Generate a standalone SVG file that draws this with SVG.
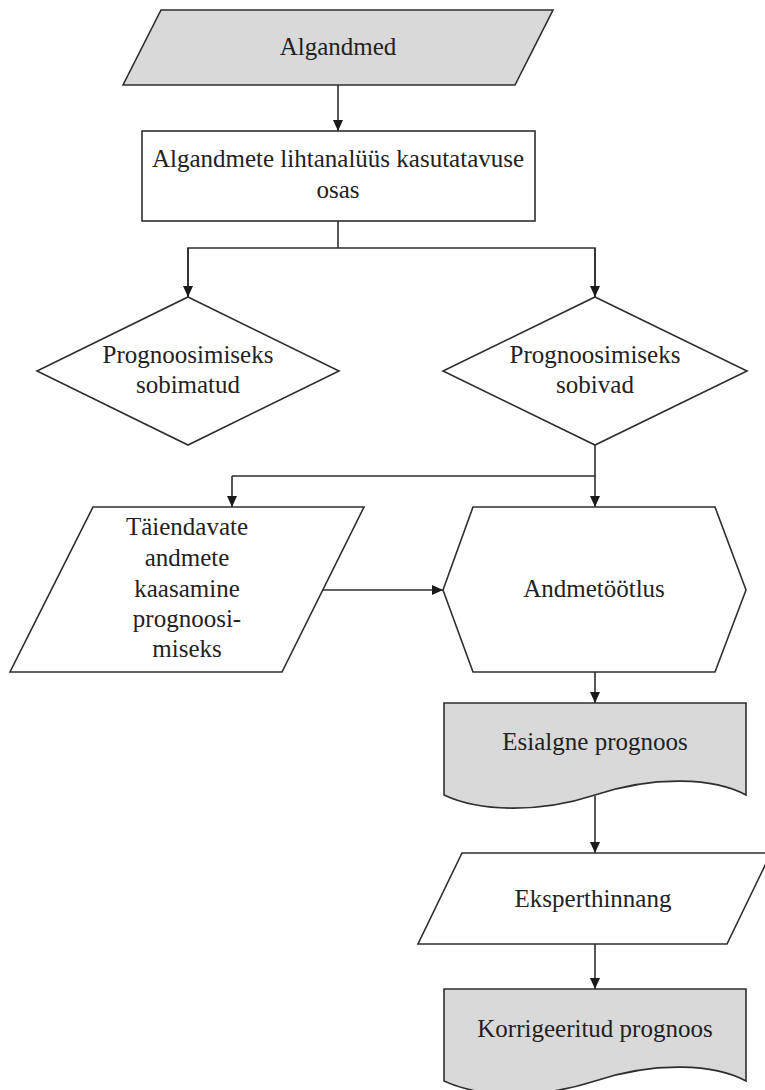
<svg xmlns="http://www.w3.org/2000/svg" width="765" height="1090" viewBox="0 0 765 1090">
<style>
.s{stroke:#2e2e2e;stroke-width:1.6;stroke-linejoin:miter}
.g{fill:#d9d9d9}
.w{fill:#ffffff}
.t{font-family:"Liberation Serif","Times New Roman",serif;font-size:25px;fill:#222;text-anchor:middle}
.c{fill:none;stroke:#2e2e2e;stroke-width:1.6}
</style>
<defs>
<marker id="ah" markerUnits="userSpaceOnUse" markerWidth="12" markerHeight="10" refX="11" refY="5" orient="auto">
<path d="M0,0 L11,5 L0,10 Z" fill="#1a1a1a"/>
</marker>
</defs>
<rect width="765" height="1090" fill="#ffffff"/>
<g id="connectors">
<line class="c" x1="338" y1="85" x2="338" y2="131" marker-end="url(#ah)"/>
<polyline class="c" points="338,221 338,248"/>
<polyline class="c" points="188,297 188,248 595,248 595,297"/>
<line class="c" x1="188" y1="248" x2="188" y2="297" marker-end="url(#ah)"/>
<line class="c" x1="595" y1="248" x2="595" y2="297" marker-end="url(#ah)"/>
<polyline class="c" points="595,445 595,476 232,476"/>
<line class="c" x1="232" y1="476" x2="232" y2="507" marker-end="url(#ah)"/>
<line class="c" x1="595" y1="476" x2="595" y2="507" marker-end="url(#ah)"/>
<line class="c" x1="323" y1="590" x2="443" y2="590" marker-end="url(#ah)"/>
<line class="c" x1="595" y1="672" x2="595" y2="703" marker-end="url(#ah)"/>
<line class="c" x1="595" y1="796" x2="595" y2="853" marker-end="url(#ah)"/>
<line class="c" x1="595" y1="944" x2="595" y2="989" marker-end="url(#ah)"/>
</g>
<g id="n-algandmed">
<polygon class="s g" points="161,10 553,10 515,85 123,85"/>
<text class="t" x="338" y="55">Algandmed</text>
</g>
<g id="n-lihtanalyys">
<rect class="s w" x="142" y="131" width="393" height="90"/>
<text class="t" x="338" y="167">Algandmete lihtanalüüs kasutatavuse</text>
<text class="t" x="338" y="198">osas</text>
</g>
<g id="n-sobimatud">
<polygon class="s w" points="188,297 339,371 188,445 37,371"/>
<text class="t" x="188" y="363">Prognoosimiseks</text>
<text class="t" x="188" y="393">sobimatud</text>
</g>
<g id="n-sobivad">
<polygon class="s w" points="595,297 747,371 595,445 443,371"/>
<text class="t" x="595" y="363">Prognoosimiseks</text>
<text class="t" x="595" y="393">sobivad</text>
</g>
<g id="n-taiendavad">
<polygon class="s w" points="93,507 364,507 282,672 10,672"/>
<text class="t" x="187" y="535">Täiendavate</text>
<text class="t" x="187" y="566">andmete</text>
<text class="t" x="187" y="597">kaasamine</text>
<text class="t" x="187" y="627">prognoosi-</text>
<text class="t" x="187" y="657">miseks</text>
</g>
<g id="n-andmetootlus">
<polygon class="s w" points="473,507 715,507 746,590 715,672 473,672 443,590"/>
<text class="t" x="594" y="597">Andmetöötlus</text>
</g>
<g id="n-esialgne">
<path class="s g" d="M444,703 H746 V795 C715,778 655,775 595,795 C540,813 480,812 444,795 Z"/>
<text class="t" x="595" y="750">Esialgne prognoos</text>
</g>
<g id="n-ekspert">
<polygon class="s w" points="462,853 771,853 727,944 418,944"/>
<text class="t" x="593" y="907">Eksperthinnang</text>
</g>
<g id="n-korrigeeritud">
<path class="s g" d="M444,989 H746 V1081 C715,1064 655,1061 595,1081 C540,1099 480,1098 444,1081 Z"/>
<text class="t" x="595" y="1037">Korrigeeritud prognoos</text>
</g>
</svg>
